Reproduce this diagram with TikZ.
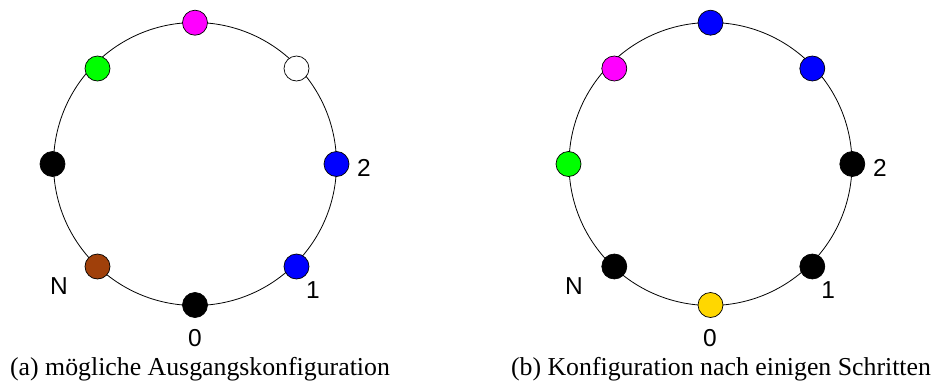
\documentclass[tikz,border=0pt]{standalone}
\usepackage{fontspec}
\setmainfont{Liberation Serif}
\newfontfamily\labfont{Liberation Sans}
\definecolor{cmag}{HTML}{FF00FF}
\definecolor{cgreen}{HTML}{00FF00}
\definecolor{cblue}{HTML}{0000FF}
\definecolor{cbrown}{HTML}{A0400A}
\definecolor{cyellow}{HTML}{FFD700}
\begin{document}
\begin{tikzpicture}[x=1pt,y=-1pt,
  ring/.style={draw=black,line width=0.8pt},
  dot/.style={circle,draw=black,line width=0.7pt,minimum size=25pt,inner sep=0pt},
  lab/.style={font=\labfont\fontsize{24.5}{24.5}\selectfont,inner sep=0pt},
  captxt/.style={font=\fontsize{25.8}{28}\selectfont,inner sep=0pt,anchor=base}]
\useasboundingbox (0,0) rectangle (938,383);
% ---- left (a)
\node[circle,ring,minimum size=283pt,inner sep=0pt] (ringA) at (195,164) {};
\node[dot,fill=cmag]   (a4) at (195,22.7) {};
\node[dot,fill=cgreen] (a5) at (97.5,68.5) {};
\node[dot,fill=white]  (a3) at (296.5,68.5) {};
\node[dot,fill=black]  (a6) at (52.5,164) {};
\node[dot,fill=cblue]  (a2) at (336.5,164) {};
\node[dot,fill=cbrown] (a7) at (97.5,266.5) {};
\node[dot,fill=cblue]  (a1) at (296.5,266.5) {};
\node[dot,fill=black]  (a0) at (195,305) {};
\node[lab] (la2) at (364,168) {2};
\node[lab] (la1) at (313,290) {1};
\node[lab] (la0) at (195,338) {0};
\node[lab] (laN) at (59,286) {N};
\node[captxt] (capA) at (200,375) {(a) mögliche Ausgangskonfiguration};
% ---- right (b)
\node[circle,ring,minimum size=283pt,inner sep=0pt] (ringB) at (710.5,164) {};
\node[dot,fill=cblue]   (b4) at (710.5,22.7) {};
\node[dot,fill=cmag]    (b5) at (614.3,68.5) {};
\node[dot,fill=cblue]   (b3) at (812.3,68.5) {};
\node[dot,fill=cgreen]  (b6) at (568.5,164) {};
\node[dot,fill=black]   (b2) at (852.3,164) {};
\node[dot,fill=black]   (b7) at (614.3,266.5) {};
\node[dot,fill=black]   (b1) at (812.3,266.5) {};
\node[dot,fill=cyellow] (b0) at (710.5,305) {};
\node[lab] (lb2) at (880,168) {2};
\node[lab] (lb1) at (828.3,290) {1};
\node[lab] (lb0) at (710,338) {0};
\node[lab] (lbN) at (574,286) {N};
\node[captxt] (capB) at (721,375) {(b) Konfiguration nach einigen Schritten};
\end{tikzpicture}
\end{document}
